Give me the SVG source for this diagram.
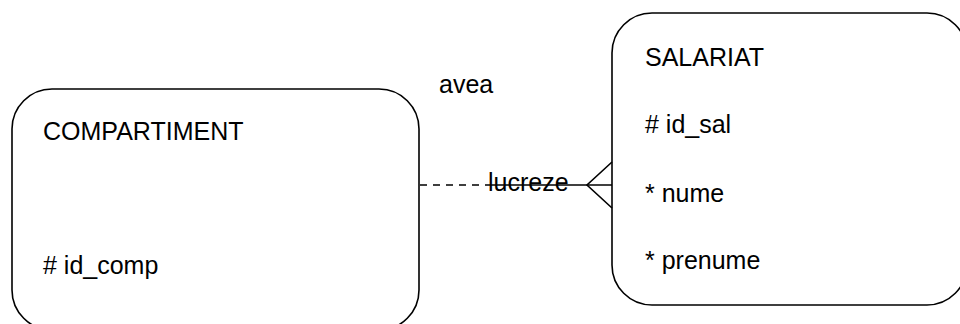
<svg xmlns="http://www.w3.org/2000/svg" width="960" height="324" viewBox="0 0 960 324">
<style>
.box{fill:#fff;stroke:#000;stroke-width:1.6}
.t{font-family:"Liberation Sans",Arial,sans-serif;font-size:25px;fill:#000}
.ln{stroke:#000;stroke-width:1.6;fill:none}
</style>
<rect width="960" height="324" fill="#fff"/>
<g id="COMPARTIMENT">
<rect class="box" x="12" y="89" width="407" height="241" rx="40" ry="40"/>
<text class="t" x="43" y="140">COMPARTIMENT</text>
<text class="t" x="43" y="274"># id_comp</text>
</g>
<g id="SALARIAT">
<rect class="box" x="612" y="13" width="355" height="292" rx="40" ry="40"/>
<text class="t" x="645" y="66">SALARIAT</text>
<text class="t" x="645" y="133"># id_sal</text>
<text class="t" x="645" y="202">* nume</text>
<text class="t" x="645" y="269">* prenume</text>
</g>
<g id="connectors">
<line class="ln" x1="420" y1="185" x2="487" y2="185" stroke-dasharray="7 6"/>
<line class="ln" x1="487" y1="185" x2="612" y2="185"/>
<polyline class="ln" points="612,162 587,185 612,208"/>
<text class="t" x="439" y="93">avea</text>
<text class="t" x="488" y="191">lucreze</text>
</g>
</svg>
